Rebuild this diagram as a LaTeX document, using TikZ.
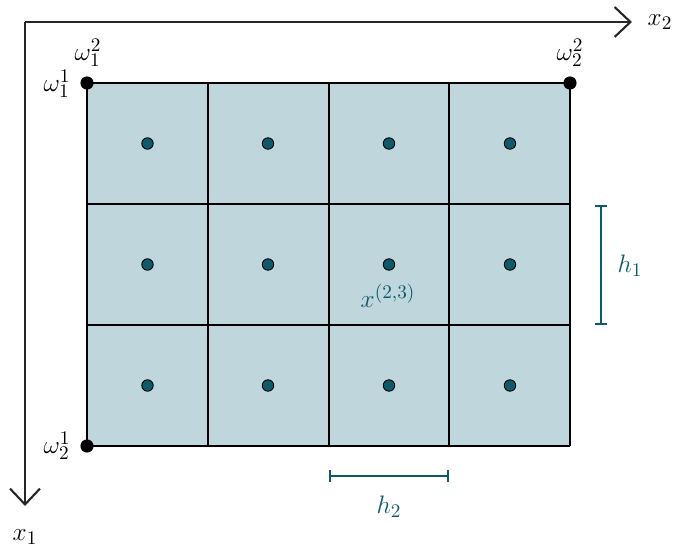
\documentclass[tikz,border=0pt]{standalone}
\usetikzlibrary{arrows.meta}
\definecolor{tealc}{RGB}{14,90,106}
\definecolor{cellfill}{RGB}{191,214,220}
\tikzset{
  every node/.style={font=\fontsize{15}{18}\selectfont},
  axisline/.style={draw=black!85, line width=0.7pt, -{Straight Barb[length=9pt,width=17pt,line width=1.2pt]}},
  gridline/.style={draw=black, line width=1.1pt},
  corner/.style={circle, fill=black, inner sep=0pt, minimum size=7.5pt},
  center/.style={circle, fill=tealc, draw=black, line width=0.5pt, inner sep=0pt, minimum size=6.5pt},
  dimline/.style={draw=tealc, line width=1.1pt, {Bar[width=7pt]}-{Bar[width=7pt]}},
  dimlabel/.style={text=tealc}
}
\begin{document}
\begin{tikzpicture}[x=0.02cm, y=-0.02cm]
\useasboundingbox (0,0) rectangle (674,547);
% axes
\coordinate (O) at (25,22);
\coordinate (X2end) at (632,22);
\coordinate (X1end) at (25,506);
\draw[axisline] (O) -- (X2end);
\draw[axisline] (O) -- (X1end);
\node (lx2) at (660,22) {$x_2$};
\node (lx1) at (25,537) {$x_1$};
% cells
\fill[cellfill] (87,83) rectangle (570,446);
\foreach \x in {87,208,329,449,570} {
  \draw[gridline] (\x,83) -- (\x,446);
}
\foreach \y in {83,204,325,446} {
  \draw[gridline] (87,\y) -- (570,\y);
}
% centre dots
\foreach \x [count=\i] in {147.5,268,389,510} {
  \foreach \y [count=\j] in {143.5,264.5,385.5} {
    \node[center] (c\j\i) at (\x,\y) {};
  }
}
\node[dimlabel] (lx23) at (388,296) {$x^{(2,3)}$};
% corners
\node[corner] (w11) at (87,83) {};
\node[corner] (w22) at (570,83) {};
\node[corner] (w21) at (87,446) {};
\node (lw11) at (57,84) {$\omega_1^1$};
\node (lw12) at (88,53) {$\omega_1^2$};
\node (lw22) at (570,53) {$\omega_2^2$};
\node (lw21) at (57,446) {$\omega_2^1$};
% dimensions
\coordinate (h1a) at (601,205);
\coordinate (h1b) at (601,325);
\draw[dimline] (h1a) -- (h1b);
\node[dimlabel] (lh1) at (630,266) {$h_1$};
\coordinate (h2a) at (329,476);
\coordinate (h2b) at (449,476);
\draw[dimline] (h2a) -- (h2b);
\node[dimlabel] (lh2) at (389,507) {$h_2$};
\end{tikzpicture}
\end{document}
